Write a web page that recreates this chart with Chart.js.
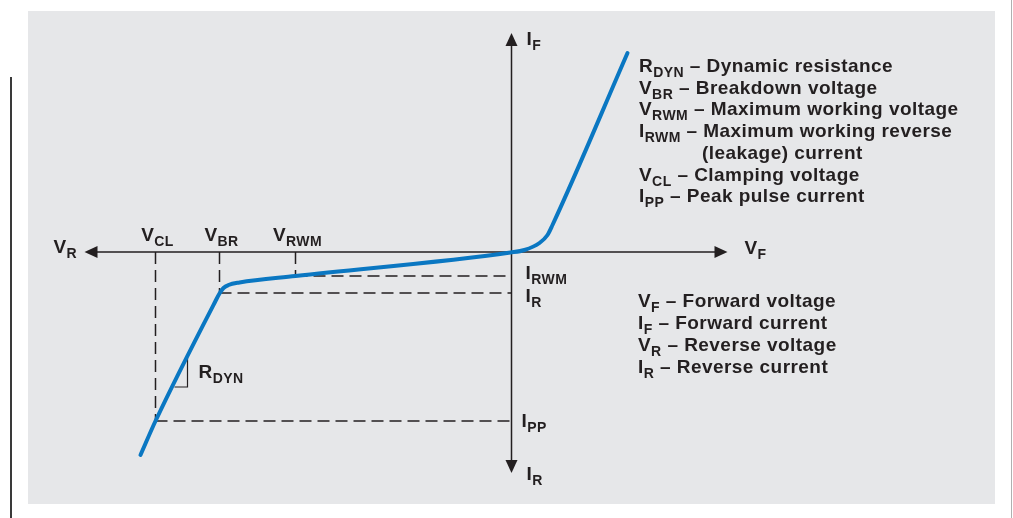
<!DOCTYPE html>
<html>
<head>
<meta charset="utf-8">
<title>TVS diode I-V characteristic</title>
<script src="https://cdn.jsdelivr.net/npm/chart.js@4/dist/chart.umd.min.js"></script>
<style>
    html, body { margin: 0; padding: 0; background: #fff; }
    #tvsChart { display: block; }
</style>
</head>
<body>
<canvas id="tvsChart" width="1013" height="518"></canvas>
<script>
// I-V curve (schematic units, origin where the axes cross)
const curveV = [-37.1, -35.6, -29.6, -29.2, -28.8, -28.3, -27.2, -21.6, -0.1, 1.3, 2.8, 3.6, 4.1, 11.6];
const curveI = [-20.3, -16.9, -4.9, -4.15, -3.6, -3.3, -3.05, -2.4, -0.05, 0.2, 0.9, 1.7, 2.7, 19.9];

// reference voltages and currents marked with dashed lines
const refVoltNames = ['CL', 'BR', 'RWM'];
const refVolts = [-35.6, -29.2, -21.6];
const refCurrNames = ['PP', 'R', 'RWM'];
const refCurrs = [-16.9, -4.1, -2.4];

// little slope triangle next to R_DYN
const rdynV = [-33.7, -32.4, -32.4];
const rdynI = [-13.5, -13.5, -10.6];

// arrow tips of the two axes
const axisV = [-42.7, 21.6];
const axisI = [-22.1, 21.9];

const notesTop = [
    ['R', 'DYN', ' \u2013 Dynamic resistance'],
    ['V', 'BR', ' \u2013 Breakdown voltage'],
    ['V', 'RWM', ' \u2013 Maximum working voltage'],
    ['I', 'RWM', ' \u2013 Maximum working reverse'],
    ['(leakage) current', '', ''],
    ['V', 'CL', ' \u2013 Clamping voltage'],
    ['I', 'PP', ' \u2013 Peak pulse current']
];
const notesBottom = [
    ['V', 'F', ' \u2013 Forward voltage'],
    ['I', 'F', ' \u2013 Forward current'],
    ['V', 'R', ' \u2013 Reverse voltage'],
    ['I', 'R', ' \u2013 Reverse current']
];

const X_MIN = -51.15, X_MAX = 50.15;
const Y_MIN = -26.6, Y_MAX = 25.2;

const INK = '#231f20';
const BLUE = '#0a77c2';
const MAIN_FONT = 'bold 19px "Liberation Sans", Arial, sans-serif';
const SUB_FONT = 'bold 14px "Liberation Sans", Arial, sans-serif';

function pts(xs, ys) {
    return xs.map(function(x, i) { return { x: x, y: ys[i] }; });
}

function drawLabel(ctx, x, y, main, sub, rest, center) {
    ctx.letterSpacing = '0.45px';
    ctx.font = MAIN_FONT;
    const w1 = ctx.measureText(main).width;
    ctx.font = SUB_FONT;
    const w2 = sub ? ctx.measureText(sub).width : 0;
    if (center) x = x - (w1 + w2) / 2;
    ctx.font = MAIN_FONT;
    ctx.fillText(main, x, y);
    if (sub) {
        ctx.font = SUB_FONT;
        ctx.fillText(sub, x + w1, y + 5);
    }
    if (rest) {
        ctx.font = MAIN_FONT;
        ctx.fillText(rest, x + w1 + w2, y);
    }
}

function arrow(ctx, tipX, tipY, dx, dy) {
    // dx,dy: unit direction the arrow points to
    const len = 13, half = 6;
    const bx = tipX - dx * len, by = tipY - dy * len;
    ctx.beginPath();
    ctx.moveTo(tipX, tipY);
    ctx.lineTo(bx - dy * half, by + dx * half);
    ctx.lineTo(bx + dy * half, by - dx * half);
    ctx.closePath();
    ctx.fill();
}

const diagramPlugin = {
    id: 'diagram',
    beforeDraw: function(chart) {
        const ctx = chart.ctx;
        ctx.save();
        ctx.fillStyle = '#ffffff';
        ctx.fillRect(0, 0, chart.width, chart.height);
        ctx.fillStyle = '#e6e7e9';
        ctx.fillRect(28, 11, 967, 493);
        ctx.fillStyle = '#3a3a3a';
        ctx.fillRect(10, 77, 2, chart.height - 77);
        ctx.fillStyle = '#b0b0b0';
        ctx.fillRect(1011, 0, 1, chart.height);
        ctx.restore();
    },
    beforeDatasetsDraw: function(chart) {
        const ctx = chart.ctx;
        const sx = chart.scales.x, sy = chart.scales.y;
        const x0 = sx.getPixelForValue(0), y0 = sy.getPixelForValue(0);
        const xl = sx.getPixelForValue(axisV[0]), xr = sx.getPixelForValue(axisV[1]);
        const yb = sy.getPixelForValue(axisI[0]), yt = sy.getPixelForValue(axisI[1]);
        ctx.save();
        ctx.strokeStyle = INK;
        ctx.fillStyle = INK;
        ctx.lineWidth = 1.5;
        ctx.beginPath();
        ctx.moveTo(xl + 6, y0);
        ctx.lineTo(xr - 6, y0);
        ctx.moveTo(x0, yt + 6);
        ctx.lineTo(x0, yb - 6);
        ctx.stroke();
        arrow(ctx, xl, y0, -1, 0);
        arrow(ctx, xr, y0, 1, 0);
        arrow(ctx, x0, yt, 0, -1);
        arrow(ctx, x0, yb, 0, 1);
        ctx.restore();
    },
    afterDraw: function(chart) {
        const ctx = chart.ctx;
        const sx = chart.scales.x, sy = chart.scales.y;
        const x0 = sx.getPixelForValue(0), y0 = sy.getPixelForValue(0);
        ctx.save();
        ctx.fillStyle = INK;
        ctx.textBaseline = 'alphabetic';
        ctx.textAlign = 'left';

        // axis names
        drawLabel(ctx, sx.getPixelForValue(axisV[0]) - 31, y0 + 1, 'V', 'R');
        drawLabel(ctx, sx.getPixelForValue(axisV[1]) + 17, y0 + 2, 'V', 'F');
        drawLabel(ctx, x0 + 15, sy.getPixelForValue(axisI[1]) + 12, 'I', 'F');
        drawLabel(ctx, x0 + 15, sy.getPixelForValue(axisI[0]) + 7, 'I', 'R');

        // reference voltage names above the axis
        refVolts.forEach(function(v, i) {
            drawLabel(ctx, sx.getPixelForValue(v) + 2, y0 - 11, 'V', refVoltNames[i], '', true);
        });
        // reference current names right of the axis
        const currDy = [6, 9, 3];
        const currDx = [10, 14, 14];
        refCurrs.forEach(function(c, i) {
            drawLabel(ctx, x0 + currDx[i], sy.getPixelForValue(c) + currDy[i], 'I', refCurrNames[i]);
        });

        drawLabel(ctx, sx.getPixelForValue(rdynV[2]) + 11, sy.getPixelForValue(rdynI[0]) - 9, 'R', 'DYN');

        // notes
        let nx = sx.getPixelForValue(12.75);
        let ny = sy.getPixelForValue(18.0);
        notesTop.forEach(function(n, i) {
            const indent = n[1] ? 0 : 63;
            drawLabel(ctx, nx + indent, ny + i * 21.7, n[0], n[1], n[2]);
        });
        nx = sx.getPixelForValue(12.65);
        ny = sy.getPixelForValue(-5.5);
        notesBottom.forEach(function(n, i) {
            drawLabel(ctx, nx, ny + i * 22, n[0], n[1], n[2]);
        });
        ctx.restore();
    }
};

function initializeDiagram() {
    const ctxDiagram = document.getElementById('tvsChart');
    if(!ctxDiagram) return;

    const dashed = [];
    refVolts.forEach(function(v, i) {
        // vertical from the axis down to its current level, then across to the I axis
        const c = refCurrs[i];
        dashed.push(pts([v, v], [0, c]));
        dashed.push(pts([v, 0], [c, c]));
    });

    const datasets = [{
        data: pts(curveV, curveI),
        showLine: true,
        borderColor: BLUE,
        borderWidth: 4,
        borderCapStyle: 'round',
        cubicInterpolationMode: 'monotone',
        pointRadius: 0
    }, {
        data: pts(rdynV, rdynI),
        showLine: true,
        borderColor: INK,
        borderWidth: 1.2,
        pointRadius: 0
    }];
    dashed.forEach(function(d) {
        datasets.push({
            data: d,
            showLine: true,
            borderColor: INK,
            borderWidth: 1.5,
            borderDash: [12, 6],
            pointRadius: 0
        });
    });

    try {
        new Chart(ctxDiagram, {
            type: 'scatter',
            data: { datasets: datasets },
            options: {
                responsive: false,
                animation: false,
                devicePixelRatio: 1,
                events: [],
                layout: { padding: 0 },
                plugins: {
                    legend: { display: false },
                    tooltip: { enabled: false }
                },
                scales: {
                    x: { type: 'linear', min: X_MIN, max: X_MAX, display: false },
                    y: { type: 'linear', min: Y_MIN, max: Y_MAX, display: false }
                }
            },
            plugins: [diagramPlugin]
        });
    } catch(e) {
        console.error('Error drawing diagram:', e);
    }
}

initializeDiagram();
</script>
</body>
</html>
